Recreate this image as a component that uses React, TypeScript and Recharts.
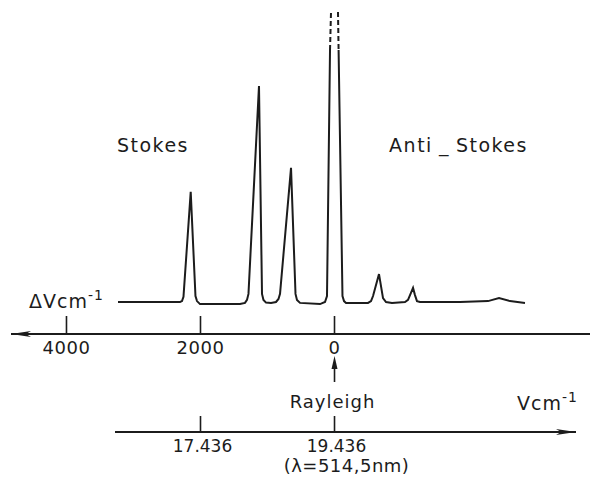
import React from 'react';
import { LineChart, Line, XAxis, YAxis, ReferenceDot } from 'recharts';

// Raman shift (cm-1), read left to right across the trace
const shifts = [
  3231, 2306, 2276, 2254, 2146, 2075, 2052, 2007,
  1410, 1336, 1306, 1284, 1127, 1082, 1060, 1022,
  948, 873, 836, 813, 649, 582, 560, 515,
  216, 142, 112, 67, 52, 0, -52, -61,
  -119, -142, -172, -500, -545, -575, -664, -724,
  -769, -858, -1052, -1097, -1127, -1172, -1201, -1231,
  -1276, -1873, -2291, -2455, -2619, -2843,
];
// recorded intensity (arb. units), null where the Rayleigh line runs off scale
const signal = [
  0, 0, 0.3, 1.7, 36.7, 2, 0.3, -0.7,
  -0.7, -0.3, 0.7, 2.7, 72, 2.7, 0.7, -0.2,
  -0.3, 0, 1, 2.7, 44.7, 2.7, 0.7, -0.3,
  -0.7, 0, 2, 84, null, null, null, 84,
  2, 0.3, -0.3, -0.3, 0.3, 2, 9.3, 1.3,
  0, -0.3, 0, 0.7, 2.3, 4.7, 2.3, 0.3,
  0, 0, 0.3, 1.3, 0.3, -0.3,
];
// off-scale (dashed) top of the Rayleigh line
const offscaleShifts = [67, 52, 0, -52, -61];
const offscaleValues = [84, 96.7, null, 96.7, 84];

const shiftTicks = [4000, 2000, 0];
const wavenumbers = [17436, 19436];
const waveLabels = ['17.436', '19.436'];
const rayleigh = 19436;

const rows = shifts.map((shift, i) => {
  const j = offscaleShifts.indexOf(shift);
  return { shift, signal: signal[i], offscale: j >= 0 ? offscaleValues[j] : null };
});
const waveRows = wavenumbers.map((wave) => ({ wave }));

const ink = '#1c1c1c';
const font = '"DejaVu Sans", sans-serif';

const ShiftTick = (props: any) => {
  const { x, y, payload } = props;
  return (
    <g>
      <line x1={x} y1={y - 18} x2={x} y2={y} stroke={ink} strokeWidth={1.6} />
      <text x={x} y={y + 20} textAnchor="middle" fontSize={18} fontFamily={font} fill={ink} letterSpacing={0.5}>
        {payload.value}
      </text>
    </g>
  );
};

const WaveTick = (props: any) => {
  const { x, y, payload } = props;
  const label = waveLabels[wavenumbers.indexOf(payload.value)];
  return (
    <g>
      {payload.value === rayleigh && (
        <g>
          <line x1={x} y1={y - 66} x2={x} y2={y - 50} stroke={ink} strokeWidth={1.6} />
          <path d={`M${x},${y - 76} L${x - 3},${y - 63} L${x + 3},${y - 63} Z`} fill={ink} />
          <text x={x - 2} y={y - 24} textAnchor="middle" fontSize={18} fontFamily={font} fill={ink} letterSpacing={1}>
            Rayleigh
          </text>
          <text x={x + 12} y={y + 40} textAnchor="middle" fontSize={18} fontFamily={font} fill={ink} letterSpacing={0.5}>
            (λ=514,5nm)
          </text>
        </g>
      )}
      <line x1={x} y1={y - 16} x2={x} y2={y} stroke={ink} strokeWidth={1.6} />
      <text x={x + 2} y={y + 20} textAnchor="middle" fontSize={17} fontFamily={font} fill={ink}>
        {label}
      </text>
    </g>
  );
};

const textLabel = (text: string, anchor: 'start' | 'middle' | 'end', dx = 0, dy = 0) => (p: any) => {
  const { x, y } = p.viewBox;
  return (
    <text x={x + dx} y={y + dy} textAnchor={anchor} fontSize={19} fontFamily={font} fill={ink} letterSpacing={1.5}>
      {text}
    </text>
  );
};

const antiStokesLabel = (p: any) => {
  const { x, y } = p.viewBox;
  return (
    <text x={x} y={y} textAnchor="middle" fontSize={19} fontFamily={font} fill={ink} letterSpacing={1.5}>
      Anti<tspan dx={6}>_</tspan><tspan dx={6}>Stokes</tspan>
    </text>
  );
};

const deltaLabel = (p: any) => {
  const { x, y } = p.viewBox;
  return (
    <text x={x - 89} y={y + 6} fontSize={19} fontFamily={font} fill={ink} letterSpacing={1}>
      ΔVcm<tspan dy={-8} fontSize={14}>-1</tspan>
    </text>
  );
};

const waveUnit = (p: any) => {
  const { x, y, width } = p.viewBox;
  return (
    <text x={x + width + 2} y={y - 22} textAnchor="end" fontSize={19} fontFamily={font} fill={ink} letterSpacing={1}>
      Vcm<tspan dy={-8} fontSize={14}>-1</tspan>
    </text>
  );
};

export default function App() {
  return (
    <div style={{ position: 'absolute', left: 0, top: 0, width: 591, height: 483, background: '#fff' }}>
      <div style={{ position: 'absolute', left: 0, top: 0 }}>
        <LineChart width={591} height={483} data={rows} margin={{ top: 0, right: 1, bottom: 109, left: 11 }}>
          <defs>
            <marker id="arrowL" viewBox="0 0 20 8" refX="20" refY="4" markerWidth="20" markerHeight="8"
              markerUnits="userSpaceOnUse" orient="auto-start-reverse">
              <path d="M0,1 L20,4 L0,7 L5,4 Z" fill={ink} />
            </marker>
          </defs>
          <XAxis
            dataKey="shift"
            type="number"
            domain={[-3813, 4828]}
            reversed
            allowDataOverflow
            ticks={shiftTicks}
            interval={0}
            height={40}
            tickSize={0}
            tickMargin={0}
            tickLine={false}
            tick={(p: any) => <ShiftTick {...p} />}
            axisLine={{ stroke: ink, strokeWidth: 2, markerStart: 'url(#arrowL)' }}
          />
          <YAxis hide domain={[-10.67, 100.67]} allowDataOverflow />
          <Line type="linear" dataKey="signal" stroke={ink} strokeWidth={2} dot={false}
            isAnimationActive={false} connectNulls={false} />
          <Line type="linear" dataKey="offscale" stroke={ink} strokeWidth={2} strokeDasharray="5 3"
            dot={false} isAnimationActive={false} connectNulls={false} />
          <ReferenceDot x={2709} y={50} r={0} ifOverflow="visible" label={textLabel('Stokes', 'middle')} />
          <ReferenceDot x={-1851} y={50} r={0} ifOverflow="visible" label={antiStokesLabel} />
          <ReferenceDot x={shifts[0]} y={signal[0] as number} r={0} ifOverflow="visible" label={deltaLabel} />
        </LineChart>
      </div>
      <div style={{ position: 'absolute', left: 0, top: 0 }}>
        <LineChart width={591} height={483} data={waveRows} margin={{ top: 380, right: 15, bottom: 0, left: 115 }}>
          <defs>
            <marker id="arrowR" viewBox="0 0 20 8" refX="20" refY="4" markerWidth="20" markerHeight="8"
              markerUnits="userSpaceOnUse" orient="auto">
              <path d="M0,1 L20,4 L0,7 L5,4 Z" fill={ink} />
            </marker>
          </defs>
          <XAxis
            dataKey="wave"
            type="number"
            domain={[16160, 23040]}
            allowDataOverflow
            ticks={wavenumbers}
            interval={0}
            height={51}
            tickSize={0}
            tickMargin={0}
            tickLine={false}
            tick={(p: any) => <WaveTick {...p} />}
            axisLine={{ stroke: ink, strokeWidth: 2, markerEnd: 'url(#arrowR)' }}
            label={{ content: waveUnit }}
          />
          <YAxis hide />
        </LineChart>
      </div>
    </div>
  );
}
